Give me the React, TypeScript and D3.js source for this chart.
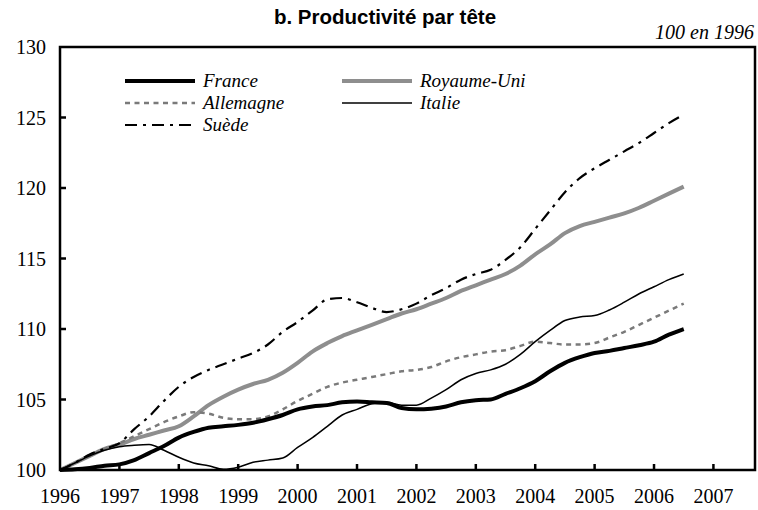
import React from 'react';
import * as d3 from 'd3';

// trimestres 1996T1 .. 2006T3, indice 100 en 1996
const quarters = d3.range(0, 43).map((i) => 1996 + i / 4);

const france = [
  100.0, 100.05, 100.15, 100.3, 100.4, 100.7, 101.2, 101.7, 102.3, 102.7, 103.0,
  103.1, 103.2, 103.35, 103.6, 103.9, 104.3, 104.5, 104.6, 104.8, 104.85, 104.8,
  104.75, 104.4, 104.3, 104.35, 104.5, 104.8, 104.95, 105.0, 105.4, 105.8, 106.3,
  107.0, 107.6, 108.0, 108.3, 108.45, 108.65, 108.85, 109.1, 109.6, 110.0,
];
const royaumeUni = [
  100.0, 100.5, 101.0, 101.5, 101.8, 102.2, 102.5, 102.8, 103.1, 103.8, 104.6,
  105.2, 105.7, 106.1, 106.4, 106.9, 107.6, 108.4, 109.0, 109.5, 109.9, 110.3,
  110.7, 111.1, 111.4, 111.8, 112.2, 112.7, 113.1, 113.5, 113.9, 114.5, 115.3,
  116.0, 116.8, 117.3, 117.6, 117.9, 118.2, 118.6, 119.1, 119.6, 120.1,
];
const allemagne = [
  100.0, 100.5, 101.0, 101.5, 101.9, 102.4, 102.9, 103.4, 103.8, 104.1, 104.0,
  103.7, 103.6, 103.6, 103.8, 104.3, 104.9, 105.4, 105.9, 106.2, 106.4, 106.6,
  106.8, 107.0, 107.1, 107.3, 107.7, 108.0, 108.2, 108.4, 108.5, 108.8, 109.1,
  109.0, 108.9, 108.9, 109.0, 109.4, 109.8, 110.3, 110.8, 111.3, 111.8,
];
const italie = [
  100.0, 100.5, 101.0, 101.4, 101.65, 101.75, 101.8, 101.4, 100.9, 100.5, 100.3,
  100.05, 100.2, 100.55, 100.7, 100.85, 101.6, 102.3, 103.1, 103.9, 104.3, 104.7,
  104.8, 104.6, 104.6, 105.1, 105.7, 106.4, 106.85, 107.1, 107.5, 108.2, 109.1,
  109.9, 110.6, 110.85, 110.95, 111.35, 111.9, 112.5, 113.0, 113.5, 113.9,
];
const suede = [
  100.0, 100.5, 101.1, 101.5, 101.9, 102.9, 103.8, 104.9, 105.9, 106.6, 107.1,
  107.5, 107.9, 108.3, 108.9, 109.8, 110.5, 111.3, 112.1, 112.2, 111.9, 111.5,
  111.2, 111.4, 111.8, 112.4, 112.9, 113.5, 113.9, 114.2, 114.9, 115.8, 117.1,
  118.4, 119.7, 120.7, 121.4, 122.0, 122.6, 123.2, 123.9, 124.6, 125.2,
];

const yearTicks = d3.range(1996, 2008);
const valueTicks = [100, 105, 110, 115, 120, 125, 130];

const serif = 'Liberation Serif';
const sans = 'Liberation Sans';

const series = [
  { name: 'Royaume-Uni', values: royaumeUni, color: '#8e8e8e', width: 4, dash: 'none' },
  { name: 'Allemagne', values: allemagne, color: '#7a7a7a', width: 2.5, dash: '5,4.5' },
  { name: 'Suède', values: suede, color: '#000', width: 2.2, dash: '12,6,3,6' },
  { name: 'Italie', values: italie, color: '#000', width: 1.5, dash: 'none' },
  { name: 'France', values: france, color: '#000', width: 4, dash: 'none' },
];

// ordre de la légende
const legend = [
  { name: 'France', col: 0, row: 0 },
  { name: 'Royaume-Uni', col: 1, row: 0 },
  { name: 'Allemagne', col: 0, row: 1 },
  { name: 'Italie', col: 1, row: 1 },
  { name: 'Suède', col: 0, row: 2 },
];

export default function App() {
  const width = 758, height = 510;
  const left = 60, right = 755, top = 47, bottom = 470;

  const x = d3.scaleLinear().domain([1996, 2007.7]).range([left, right]);
  const y = d3.scaleLinear().domain([100, 130]).range([bottom, top]);

  const line = d3
    .line<number>()
    .x((d, i) => x(quarters[i]))
    .y((d) => y(d))
    .curve(d3.curveMonotoneX);

  return (
    <svg
      width={width}
      height={height}
      style={{ position: 'absolute', left: 0, top: 0, background: '#fff' }}
    >
      <text x={385} y={24} textAnchor="middle" style={{ fontFamily: sans, fontWeight: 'bold', fontSize: 20.5 }}>
        b. Productivité par tête
      </text>
      <text x={754} y={39} textAnchor="end" style={{ fontFamily: serif, fontStyle: 'italic', fontSize: 20 }}>
        100 en 1996
      </text>

      {series.map((s) => (
        <path
          key={s.name}
          d={line(s.values) || ''}
          fill="none"
          stroke={s.color}
          strokeWidth={s.width}
          strokeDasharray={s.dash}
          strokeLinejoin="round"
        />
      ))}

      {/* cadre */}
      <rect
        x={left}
        y={top}
        width={right - left}
        height={bottom - top}
        fill="none"
        stroke="#000"
        strokeWidth={2.5}
      />

      {valueTicks.map((v) => (
        <g key={v}>
          {v > 100 && v < 130 && (
            <line x1={left} x2={left + 6} y1={y(v)} y2={y(v)} stroke="#000" strokeWidth={2.5} />
          )}
          <text
            x={46}
            y={y(v)}
            dy="0.35em"
            textAnchor="end"
            style={{ fontFamily: serif, fontSize: 20 }}
          >
            {v}
          </text>
        </g>
      ))}

      {yearTicks.map((t) => (
        <g key={t}>
          {t > 1996 && (
            <line x1={x(t)} x2={x(t)} y1={bottom} y2={bottom - 6} stroke="#000" strokeWidth={2.5} />
          )}
          <text x={x(t)} y={503} textAnchor="middle" style={{ fontFamily: serif, fontSize: 20 }}>
            {t}
          </text>
        </g>
      ))}

      {legend.map((l) => {
        const s = series.find((d) => d.name === l.name)!;
        const lx = l.col === 0 ? 125 : 342;
        const ly = 81 + l.row * 22;
        return (
          <g key={l.name}>
            <line
              x1={lx}
              x2={lx + 70}
              y1={ly}
              y2={ly}
              stroke={s.color}
              strokeWidth={s.width}
              strokeDasharray={s.dash}
            />
            <text
              x={lx + 78}
              y={ly + 6}
              style={{ fontFamily: serif, fontStyle: 'italic', fontSize: 19 }}
            >
              {l.name}
            </text>
          </g>
        );
      })}
    </svg>
  );
}
